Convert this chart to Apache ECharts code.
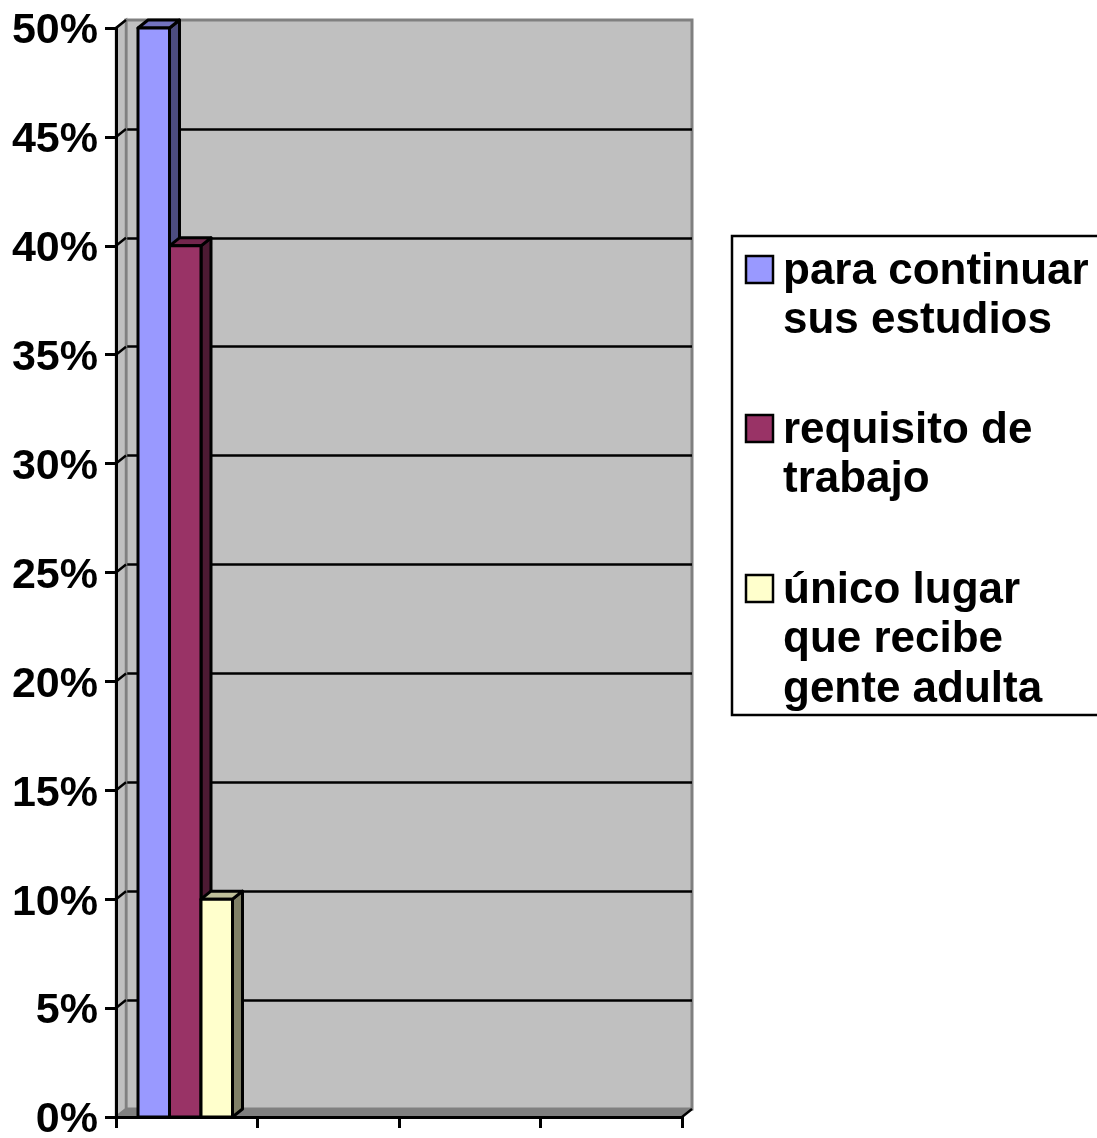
<!DOCTYPE html>
<html>
<head>
<meta charset="utf-8">
<style>
  html, body { margin: 0; padding: 0; background: #fff; }
  #chart { width: 1097px; height: 1138px; }
</style>
<script src="https://cdn.jsdelivr.net/npm/echarts@6/dist/echarts.min.js"></script>
</head>
<body>
<div id="chart"></div>
<script>
// chart data
const categories = ['', '', '', ''];
const yTicks = [0, 5, 10, 15, 20, 25, 30, 35, 40, 45, 50];
const seriesNames = ['para continuar sus estudios', 'requisito de trabajo', 'único lugar que recibe gente adulta'];
const legendLabels = ['para continuar\nsus estudios', 'requisito de\ntrabajo', 'único lugar\nque recibe\ngente adulta'];
const paraContinuar = [50, 0, 0, 0];
const requisitoTrabajo = [40, 0, 0, 0];
const unicoLugar = [10, 0, 0, 0];

// front / top / side colours of each bar
const barColors = [
  ['#9999ff', '#7373bf', '#4d4d80'],
  ['#993366', '#73264d', '#4d1a33'],
  ['#ffffcc', '#bfbf99', '#808066']
];

const font = '"Liberation Sans", Arial, sans-serif';
const dx = 10, dy = -8;          // depth of the 3d effect
const barShare = 0.2226;         // bar width as a share of the category band
const legendRows = [270, 429, 589];

function renderWalls(params, api) {
  const rect = params.coordSys;
  const y = api.coord([0, api.value(0)])[1];
  const x0 = rect.x, x1 = rect.x + rect.width, bottom = rect.y + rect.height, top = rect.y;
  const children = [];
  if (params.dataIndex === 0) {
    children.push({
      type: 'polygon',
      shape: { points: [[x0, top], [x0 + dx, top + dy], [x0 + dx, bottom + dy], [x0, bottom]] },
      style: { fill: '#c0c0c0', stroke: '#808080', lineWidth: 2.5 }
    });
    children.push({
      type: 'polygon',
      shape: { points: [[x0, bottom], [x0 + dx, bottom + dy], [x1 + dx, bottom + dy], [x1, bottom]] },
      style: { fill: '#808080', stroke: '#808080', lineWidth: 1 }
    });
    children.push({
      type: 'line',
      shape: { x1: x1, y1: bottom, x2: x1 + dx, y2: bottom + dy },
      style: { stroke: '#000', lineWidth: 2.5 }
    });
  }
  if (params.dataIndex > 0) {
    children.push({
      type: 'line',
      shape: { x1: x0, y1: y, x2: x0 + dx, y2: y + dy },
      style: { stroke: '#000', lineWidth: 2.5 }
    });
  }
  return { type: 'group', children: children };
}

function makeBarRenderer(idx) {
  return function (params, api) {
    const val = api.value(1);
    if (!val) return null;
    const band = api.size([1, 0])[0];
    const w = band * barShare;
    const c = api.coord([api.value(0), val]);
    const base = api.coord([api.value(0), 0]);
    const left = c[0] - band / 2 + band * 0.1555 + idx * w;
    const right = left + w;
    const colors = barColors[idx];
    const edge = { stroke: '#000', lineWidth: 3, lineJoin: 'round' };
    return {
      type: 'group',
      children: [
        {
          type: 'polygon',
          shape: { points: [[right, c[1]], [right + dx, c[1] + dy], [right + dx, base[1] + dy], [right, base[1]]] },
          style: Object.assign({ fill: colors[2] }, edge)
        },
        {
          type: 'polygon',
          shape: { points: [[left, c[1]], [left + dx, c[1] + dy], [right + dx, c[1] + dy], [right, c[1]]] },
          style: Object.assign({ fill: colors[1] }, edge)
        },
        {
          type: 'rect',
          shape: { x: left, y: c[1], width: w, height: base[1] - c[1] },
          style: Object.assign({ fill: colors[0] }, edge)
        }
      ]
    };
  };
}

function legendElements() {
  const els = [{
    type: 'rect',
    shape: { x: 732, y: 236, width: 380, height: 479 },
    style: { fill: '#fff', stroke: '#000', lineWidth: 2.5 }
  }];
  legendLabels.forEach(function (label, i) {
    els.push({
      type: 'rect',
      shape: { x: 746, y: legendRows[i] - 14, width: 27, height: 27 },
      style: { fill: barColors[i][0], stroke: '#000', lineWidth: 2.5 }
    });
    els.push({
      type: 'text',
      x: 783,
      y: legendRows[i] - 23,
      style: {
        text: label,
        fill: '#000',
        font: 'bold 44px ' + font,
        lineHeight: 49.5,
        align: 'left',
        verticalAlign: 'top'
      }
    });
  });
  return els;
}

const chart = echarts.init(document.getElementById('chart'));

const barSeries = [paraContinuar, requisitoTrabajo, unicoLugar].map(function (values, i) {
  return {
    name: seriesNames[i],
    type: 'custom',
    xAxisIndex: 0,
    yAxisIndex: 0,
    z: 5 + i,
    encode: { x: 0, y: 1 },
    data: values.map(function (v, k) { return [k, v]; }),
    renderItem: makeBarRenderer(i)
  };
});

chart.setOption({
  animation: false,
  backgroundColor: '#fff',
  grid: [
    { left: 116, top: 28, width: 566, height: 1089, outerBoundsMode: 'none' },
    // back wall sits behind the front plane
    {
      left: 116 + dx, top: 28 + dy, width: 566, height: 1089, outerBoundsMode: 'none',
      show: true, backgroundColor: '#c0c0c0', borderColor: '#808080', borderWidth: 3
    }
  ],
  xAxis: [
    {
      gridIndex: 0,
      type: 'category',
      data: categories,
      axisLine: { show: true, lineStyle: { color: '#000', width: 3 } },
      axisTick: { show: true, length: 11, lineStyle: { color: '#000', width: 3 } },
      axisLabel: { show: false },
      z: 4
    },
    { gridIndex: 1, type: 'category', data: categories, show: false }
  ],
  yAxis: [
    {
      gridIndex: 0,
      type: 'value',
      min: 0,
      max: 50,
      interval: 5,
      axisLine: { show: true, lineStyle: { color: '#000', width: 3 } },
      axisTick: { show: true, length: 11, lineStyle: { color: '#000', width: 3 } },
      axisLabel: {
        formatter: function (v) { return '{t|' + v + '%}'; },
        margin: 18,
        rich: {
          t: {
            color: '#000',
            fontFamily: font,
            fontWeight: 'bold',
            fontSize: 43,
            padding: [7, 0, 0, 0]
          }
        }
      },
      splitLine: { show: false },
      z: 4
    },
    {
      gridIndex: 1,
      type: 'value',
      min: 0,
      max: 50,
      interval: 5,
      axisLine: { show: false },
      axisTick: { show: false },
      axisLabel: { show: false },
      splitLine: { show: true, showMinLine: false, showMaxLine: false, lineStyle: { color: '#000', width: 2.5 } }
    }
  ],
  series: [
    {
      type: 'custom',
      xAxisIndex: 0,
      yAxisIndex: 0,
      z: 3,
      silent: true,
      encode: { y: 0 },
      data: yTicks.map(function (t) { return [t]; }),
      renderItem: renderWalls
    }
  ].concat(barSeries),
  graphic: { elements: legendElements() }
});
</script>
</body>
</html>
